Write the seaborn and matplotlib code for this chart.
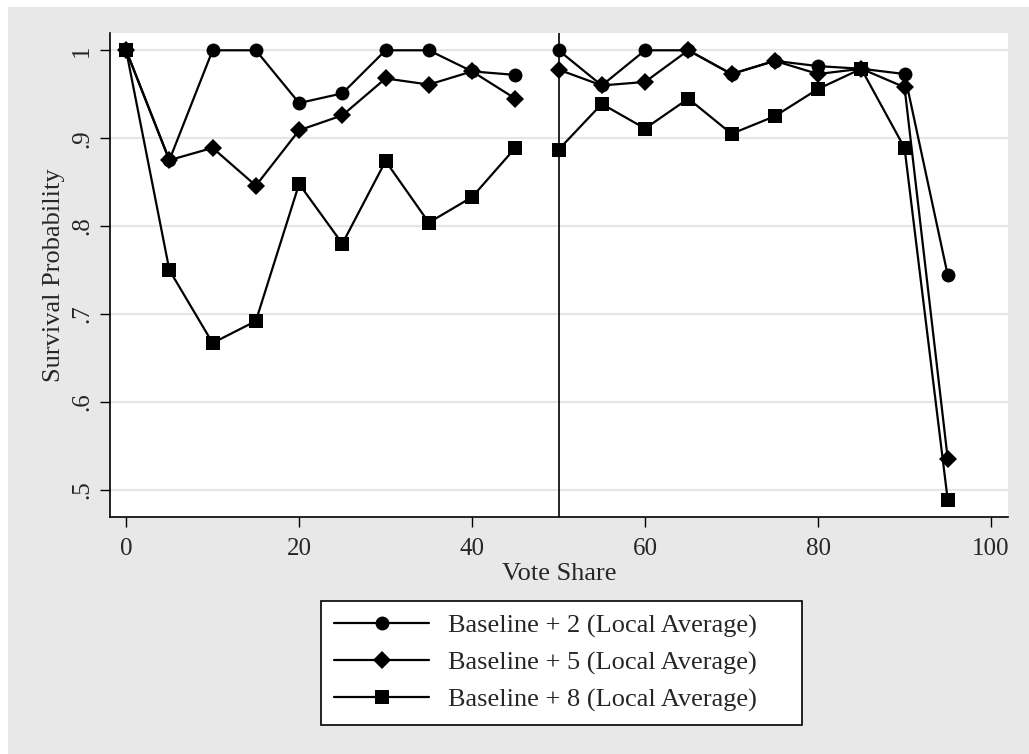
import numpy as np
import pandas as pd
import matplotlib
matplotlib.use("Agg")
import matplotlib.pyplot as plt
from matplotlib.patches import Rectangle
import seaborn as sns

# --- data ---
vote_left = [0, 5, 10, 15, 20, 25, 30, 35, 40, 45]
vote_right = [50, 55, 60, 65, 70, 75, 80, 85, 90, 95]

base2_left = [1.0, 0.875, 1.0, 1.0, 0.940, 0.951, 1.0, 1.0, 0.976, 0.972]
base2_right = [1.0, 0.960, 1.0, 1.0, 0.973, 0.988, 0.982, 0.979, 0.973, 0.744]
base5_left = [1.0, 0.875, 0.889, 0.846, 0.909, 0.926, 0.968, 0.961, 0.976, 0.945]
base5_right = [0.978, 0.960, 0.964, 1.0, 0.973, 0.988, 0.973, 0.979, 0.958, 0.535]
base8_left = [1.0, 0.750, 0.667, 0.692, 0.848, 0.780, 0.874, 0.804, 0.833, 0.889]
base8_right = [0.887, 0.939, 0.911, 0.945, 0.905, 0.925, 0.956, 0.979, 0.889, 0.488]

series_names = ["Baseline + 2 (Local Average)",
                "Baseline + 5 (Local Average)",
                "Baseline + 8 (Local Average)"]
series_markers = ["o", "D", "s"]
series_msize = [10, 9, 10]
cutoff = 50

y_ticks = [0.5, 0.6, 0.7, 0.8, 0.9, 1.0]
y_tick_labels = [".5", ".6", ".7", ".8", ".9", "1"]
x_ticks = [0, 20, 40, 60, 80, 100]

rows = []
for name, left, right in zip(series_names,
                             [base2_left, base5_left, base8_left],
                             [base2_right, base5_right, base8_right]):
    for x, y in zip(vote_left, left):
        rows.append((name, "left", x, y))
    for x, y in zip(vote_right, right):
        rows.append((name, "right", x, y))
df = pd.DataFrame(rows, columns=["series", "side", "vote", "surv"])

# --- plotting ---
sns.set_style("white")
plt.rcParams["font.family"] = ["Liberation Serif", "DejaVu Serif"]

fig = plt.figure(figsize=(10.29, 7.54), dpi=100)
fig.patch.set_facecolor("white")
# Stata-like grey outer region
fig.patches.append(Rectangle((8 / 1029, 0), 1 - 8 / 1029, 1 - 7 / 754,
                             transform=fig.transFigure, facecolor="#e8e8e8",
                             edgecolor="none", zorder=-10))

ax = fig.add_axes([0.1066, 0.3147, 0.8733, 0.6411])
ax.set_facecolor("white")

for name, mk, ms in zip(series_names, series_markers, series_msize):
    for i, side in enumerate(["left", "right"]):
        sub = df[(df["series"] == name) & (df["side"] == side)]
        sns.lineplot(data=sub, x="vote", y="surv", ax=ax, color="black",
                     marker=mk, markersize=ms, markeredgewidth=0,
                     linewidth=1.6, estimator=None, sort=False,
                     label=name if i == 0 else None, legend=False, zorder=3)

ax.axvline(cutoff, color="black", linewidth=1.2, zorder=2)

ax.set_xlim(-1.9, 102)
ax.set_ylim(0.4694, 1.0193)
ax.set_xticks(x_ticks)
ax.set_yticks(y_ticks)
ax.set_yticklabels(y_tick_labels, rotation=90, va="center")
ax.grid(axis="y", color="#e6e6e6", linewidth=1.5)
ax.grid(axis="x", visible=False)

for s in ["top", "right"]:
    ax.spines[s].set_visible(False)
for s in ["left", "bottom"]:
    ax.spines[s].set_color("black")
    ax.spines[s].set_linewidth(1.2)

ax.tick_params(axis="both", which="major", direction="out", length=7.5,
               width=1, color="black", labelsize=18, left=True, bottom=True)
ax.tick_params(axis="x", pad=8)
ax.tick_params(axis="y", pad=4.5)

ax.set_xlabel("Vote Share", fontsize=19, labelpad=2)
ax.set_ylabel("Survival Probability", fontsize=19, labelpad=4.5)

handles, labels = ax.get_legend_handles_labels()
leg = ax.legend(handles, labels, loc="upper left", mode="expand",
                bbox_to_anchor=(321 / 1029, 1 - 600.7 / 754, 481 / 1029, 0),
                bbox_transform=fig.transFigure, fontsize=19, frameon=True,
                fancybox=False, edgecolor="black", framealpha=1,
                handlelength=3.6, handletextpad=0.7, labelspacing=0.5,
                borderpad=0.5, borderaxespad=0)
leg.get_frame().set_linewidth(1.2)

fig.savefig("out.png", dpi=100, facecolor=fig.get_facecolor())
